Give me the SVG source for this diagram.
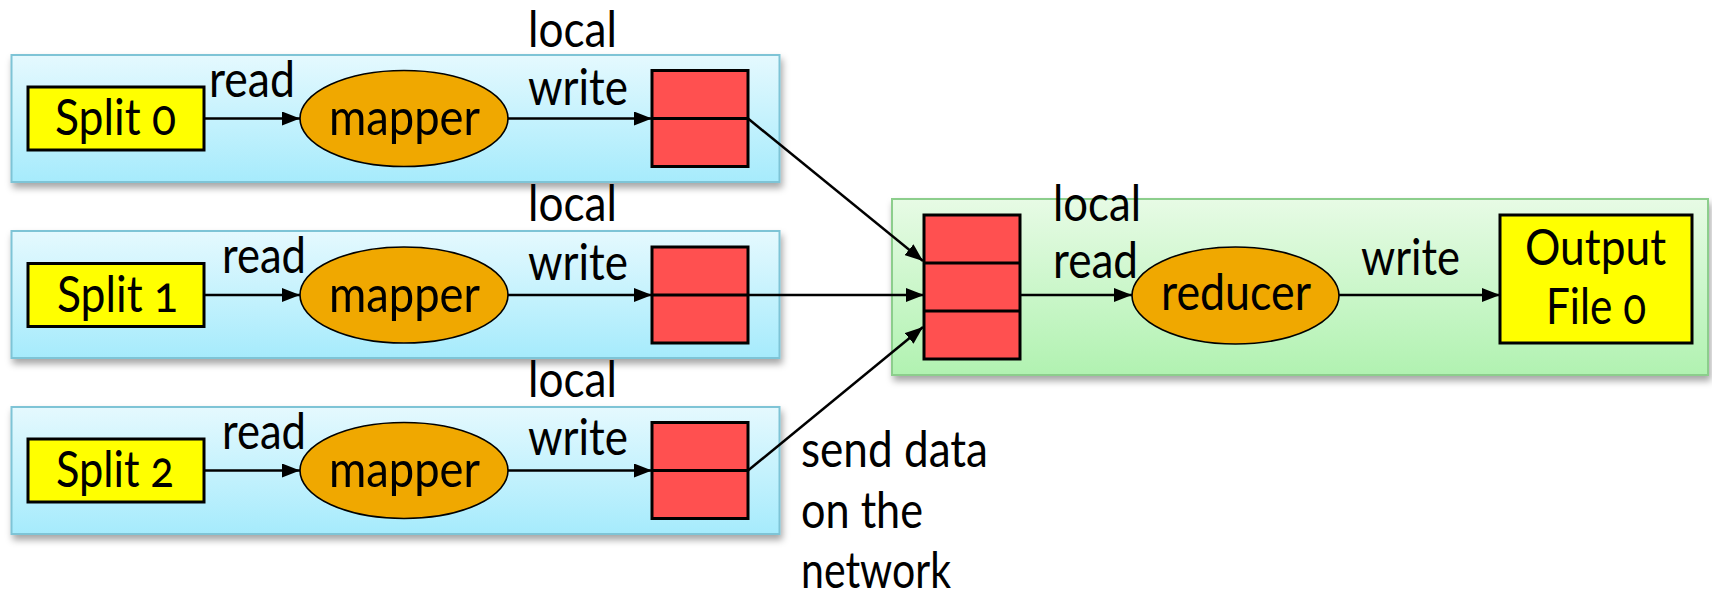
<svg xmlns="http://www.w3.org/2000/svg" width="1712" height="597" viewBox="0 0 1712 597">
<style>
text{font-family:"Lato","Open Sans","Liberation Sans",sans-serif;font-size:51px;fill:#000;font-variant-numeric:oldstyle-nums}
.blue{fill:url(#gBlue);stroke:#7ec4d6;stroke-width:2}
.green{fill:url(#gGreen);stroke:#8cce8c;stroke-width:2}
.split{fill:#ffff00;stroke:#000;stroke-width:3}
.ell{fill:#f0a800;stroke:#000;stroke-width:1.6}
.red{fill:#ff5050;stroke:#000;stroke-width:3}
.div{stroke:#000;stroke-width:3}
.conn{stroke:#000;stroke-width:2.5;fill:none;marker-end:url(#arr)}
</style>
<defs>
<linearGradient id="gBlue" x1="0" y1="0" x2="0" y2="1"><stop offset="0" stop-color="#e5f9fe"/><stop offset="1" stop-color="#a6ebfc"/></linearGradient>
<linearGradient id="gGreen" x1="0" y1="0" x2="0" y2="1"><stop offset="0" stop-color="#e7fbe5"/><stop offset="1" stop-color="#b1f2b1"/></linearGradient>
<filter id="sh" x="-5%" y="-10%" width="110%" height="130%"><feDropShadow dx="2" dy="5" stdDeviation="3.5" flood-color="#000" flood-opacity="0.35"/></filter>
<marker id="arr" markerUnits="userSpaceOnUse" markerWidth="18" markerHeight="14" refX="18" refY="7" orient="auto"><path d="M0,0 L18,7 L0,14 Z" fill="#000"/></marker>
</defs>

<!-- containers -->
<g id="map-host-0"><rect class="blue" x="11.5" y="55" width="768" height="127" filter="url(#sh)"/></g>
<g id="map-host-1"><rect class="blue" x="11.5" y="231" width="768" height="127" filter="url(#sh)"/></g>
<g id="map-host-2"><rect class="blue" x="11.5" y="407" width="768" height="127" filter="url(#sh)"/></g>
<g id="reduce-host"><rect class="green" x="892" y="199" width="816" height="176" filter="url(#sh)"/></g>

<!-- row 0 -->
<g id="split0"><rect class="split" x="28" y="87" width="176" height="63"/><text x="55" y="135" textLength="121" lengthAdjust="spacingAndGlyphs">Split 0</text></g>
<g id="mapper0"><ellipse class="ell" cx="404" cy="118.5" rx="104" ry="48"/><text x="329" y="135" textLength="151" lengthAdjust="spacingAndGlyphs">mapper</text></g>
<g id="buffer0"><rect class="red" x="652" y="70.5" width="96" height="96"/><line class="div" x1="652" y1="118.5" x2="748" y2="118.5"/></g>

<!-- row 1 -->
<g id="split1"><rect class="split" x="28" y="263.5" width="176" height="63"/><text x="57" y="311.5" textLength="121" lengthAdjust="spacingAndGlyphs">Split 1</text></g>
<g id="mapper1"><ellipse class="ell" cx="404" cy="295" rx="104" ry="48"/><text x="329" y="311.5" textLength="151" lengthAdjust="spacingAndGlyphs">mapper</text></g>
<g id="buffer1"><rect class="red" x="652" y="247" width="96" height="96"/><line class="div" x1="652" y1="295" x2="748" y2="295"/></g>

<!-- row 2 -->
<g id="split2"><rect class="split" x="28" y="439" width="176" height="63"/><text x="56" y="487" textLength="118" lengthAdjust="spacingAndGlyphs">Split 2</text></g>
<g id="mapper2"><ellipse class="ell" cx="404" cy="470.5" rx="104" ry="48"/><text x="329" y="487" textLength="151" lengthAdjust="spacingAndGlyphs">mapper</text></g>
<g id="buffer2"><rect class="red" x="652" y="422.5" width="96" height="96"/><line class="div" x1="652" y1="470.5" x2="748" y2="470.5"/></g>

<!-- reducer side -->
<g id="merge-buffer"><rect class="red" x="924" y="215" width="96" height="144"/><line class="div" x1="924" y1="263" x2="1020" y2="263"/><line class="div" x1="924" y1="311" x2="1020" y2="311"/></g>
<g id="reducer"><ellipse class="ell" cx="1235.5" cy="295.5" rx="103.5" ry="48.5"/><text x="1161" y="309.5" textLength="150" lengthAdjust="spacingAndGlyphs">reducer</text></g>
<g id="output0"><rect class="split" x="1500" y="215" width="192" height="128"/><text x="1525" y="265" textLength="141" lengthAdjust="spacingAndGlyphs">Output</text><text x="1546" y="324" textLength="100" lengthAdjust="spacingAndGlyphs">File 0</text></g>

<!-- connectors -->
<g id="connectors">
<line class="conn" x1="204" y1="118.5" x2="300" y2="118.5"/>
<line class="conn" x1="508" y1="118.5" x2="652" y2="118.5"/>
<line class="conn" x1="204" y1="295" x2="300" y2="295"/>
<line class="conn" x1="508" y1="295" x2="652" y2="295"/>
<line class="conn" x1="204" y1="470.5" x2="300" y2="470.5"/>
<line class="conn" x1="508" y1="470.5" x2="652" y2="470.5"/>
<line class="conn" x1="748" y1="118.5" x2="923" y2="261"/>
<line class="conn" x1="748" y1="295" x2="924" y2="295"/>
<line class="conn" x1="748" y1="470.5" x2="923" y2="327"/>
<line class="conn" x1="1020" y1="295" x2="1132" y2="295"/>
<line class="conn" x1="1339" y1="295" x2="1500" y2="295"/>
</g>

<!-- labels -->
<g id="labels">
<text x="209" y="97" textLength="86" lengthAdjust="spacingAndGlyphs">read</text>
<text x="528" y="47" font-size="44" textLength="89" lengthAdjust="spacingAndGlyphs">local</text>
<text x="528" y="105" font-size="49" textLength="100" lengthAdjust="spacingAndGlyphs">write</text>
<text x="222" y="273" textLength="84" lengthAdjust="spacingAndGlyphs">read</text>
<text x="528" y="221" textLength="89" lengthAdjust="spacingAndGlyphs">local</text>
<text x="528" y="279.5" textLength="100" lengthAdjust="spacingAndGlyphs">write</text>
<text x="222" y="449" textLength="84" lengthAdjust="spacingAndGlyphs">read</text>
<text x="528" y="397" textLength="89" lengthAdjust="spacingAndGlyphs">local</text>
<text x="528" y="455" textLength="100" lengthAdjust="spacingAndGlyphs">write</text>
<text x="1053" y="221" textLength="88" lengthAdjust="spacingAndGlyphs">local</text>
<text x="1053" y="278" textLength="85" lengthAdjust="spacingAndGlyphs">read</text>
<text x="1361" y="275" textLength="99" lengthAdjust="spacingAndGlyphs">write</text>
<text x="801" y="467" textLength="187" lengthAdjust="spacingAndGlyphs">send data</text>
<text x="801" y="528" textLength="122" lengthAdjust="spacingAndGlyphs">on the</text>
<text x="801" y="588" textLength="150" lengthAdjust="spacingAndGlyphs">network</text>
</g>
</svg>
